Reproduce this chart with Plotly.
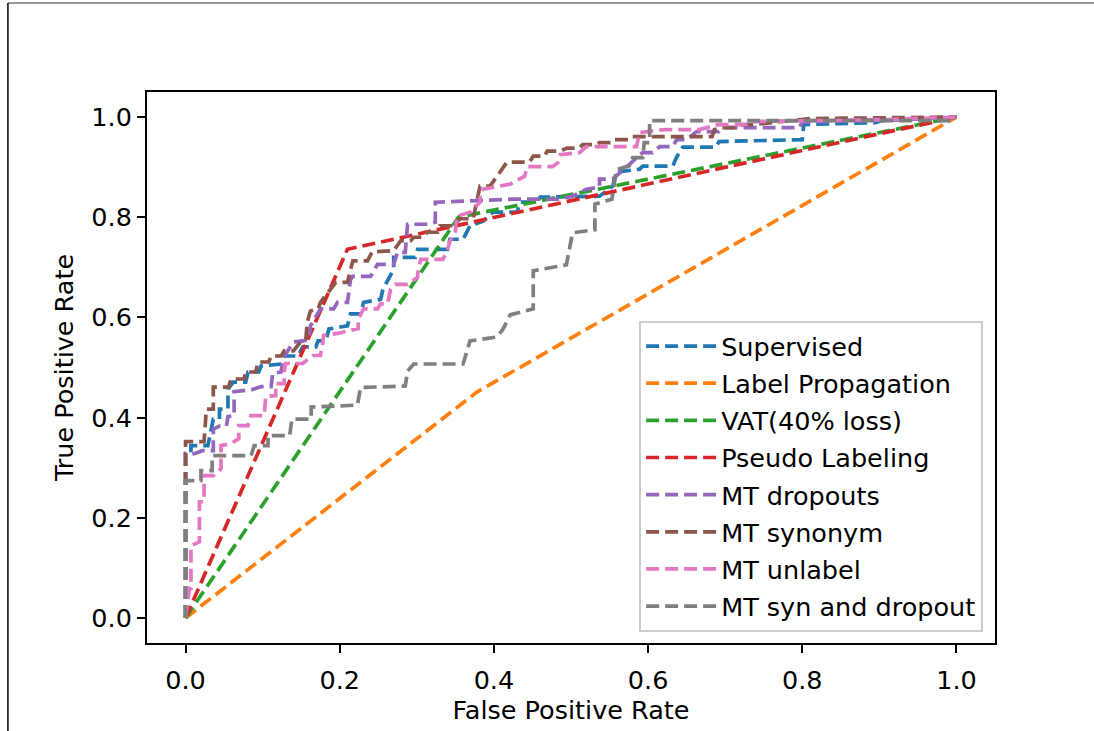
import plotly.graph_objects as go

names = ["Supervised", "Label Propagation", "VAT(40% loss)", "Pseudo Labeling",
         "MT dropouts", "MT synonym", "MT unlabel", "MT syn and dropout"]
colors = ["#1f77b4", "#ff7f0e", "#2ca02c", "#d62728", "#9467bd", "#8c564b", "#e377c2", "#7f7f7f"]

sup_fpr = [0, 0, 0.007, 0.007, 0.029, 0.036, 0.044, 0.044, 0.055, 0.055, 0.062, 0.078, 0.081, 0.095, 0.098,
           0.124, 0.128, 0.146, 0.152, 0.169, 0.172, 0.182, 0.186, 0.210, 0.214, 0.227, 0.231, 0.253, 0.256,
           0.270, 0.270, 0.298, 0.301, 0.340, 0.343, 0.360, 0.369, 0.386, 0.399, 0.430, 0.434, 0.456, 0.460,
           0.537, 0.554, 0.559, 0.589, 0.593, 0.632, 0.637, 0.645, 0.688, 0.692, 0.800, 0.802, 0.895, 0.903, 1]
sup_tpr = [0, 0.328, 0.328, 0.344, 0.344, 0.397, 0.397, 0.417, 0.417, 0.457, 0.471, 0.471, 0.491, 0.491, 0.503,
           0.507, 0.523, 0.523, 0.541, 0.541, 0.553, 0.553, 0.577, 0.583, 0.607, 0.607, 0.630, 0.636, 0.656,
           0.696, 0.720, 0.720, 0.736, 0.736, 0.756, 0.756, 0.783, 0.792, 0.810, 0.810, 0.830, 0.830, 0.840,
           0.842, 0.862, 0.890, 0.896, 0.902, 0.902, 0.920, 0.940, 0.940, 0.951, 0.955, 0.985, 0.989, 0.993, 1]

lp_fpr = [0, 0.378, 1]
lp_tpr = [0, 0.451, 1]

vat_fpr = [0, 0.354, 1]
vat_tpr = [0, 0.800, 1]

pl_fpr = [0, 0.210, 1]
pl_tpr = [0, 0.736, 1]

mtd_fpr = [0, 0, 0.0115, 0.0216, 0.036, 0.036, 0.044, 0.053, 0.055, 0.063, 0.063, 0.087, 0.098, 0.111, 0.113,
           0.124, 0.126, 0.140, 0.153, 0.160, 0.162, 0.175, 0.192, 0.197, 0.210, 0.214, 0.217, 0.240, 0.249,
           0.270, 0.275, 0.285, 0.288, 0.314, 0.324, 0.324, 0.425, 0.482, 0.502, 0.520, 0.537, 0.537, 0.554,
           0.580, 0.593, 0.606, 0.615, 0.632, 0.637, 0.650, 0.663, 0.692, 0.701, 0.796, 0.800, 0.912, 1]
mtd_tpr = [0, 0.328, 0.328, 0.334, 0.334, 0.377, 0.383, 0.383, 0.402, 0.404, 0.452, 0.456, 0.462, 0.462, 0.488,
           0.491, 0.517, 0.551, 0.553, 0.557, 0.583, 0.617, 0.617, 0.630, 0.630, 0.676, 0.682, 0.682, 0.706,
           0.706, 0.730, 0.730, 0.786, 0.786, 0.790, 0.830, 0.836, 0.836, 0.842, 0.856, 0.860, 0.876, 0.876,
           0.912, 0.929, 0.929, 0.941, 0.941, 0.955, 0.955, 0.971, 0.971, 0.979, 0.979, 0.990, 0.994, 1]

mts_fpr = [0, 0, 0.024, 0.027, 0.036, 0.036, 0.056, 0.059, 0.076, 0.078, 0.091, 0.094, 0.108, 0.111, 0.124,
           0.128, 0.140, 0.149, 0.156, 0.158, 0.162, 0.172, 0.175, 0.188, 0.195, 0.210, 0.217, 0.236, 0.242,
           0.270, 0.279, 0.292, 0.296, 0.308, 0.314, 0.327, 0.330, 0.347, 0.356, 0.373, 0.382, 0.395, 0.408,
           0.417, 0.446, 0.451, 0.466, 0.469, 0.486, 0.495, 0.511, 0.515, 0.533, 0.537, 0.554, 0.557, 0.576,
           0.580, 0.683, 0.686, 0.696, 0.718, 0.722, 0.735, 0.812, 1]
mts_tpr = [0, 0.352, 0.352, 0.417, 0.417, 0.461, 0.461, 0.477, 0.477, 0.491, 0.491, 0.511, 0.511, 0.523, 0.523,
           0.533, 0.533, 0.551, 0.557, 0.591, 0.613, 0.617, 0.630, 0.656, 0.670, 0.670, 0.713, 0.713, 0.731,
           0.733, 0.753, 0.753, 0.760, 0.760, 0.770, 0.770, 0.783, 0.783, 0.797, 0.797, 0.862, 0.862, 0.890,
           0.910, 0.910, 0.922, 0.922, 0.932, 0.932, 0.938, 0.938, 0.945, 0.945, 0.949, 0.949, 0.955, 0.955,
           0.961, 0.961, 0.975, 0.979, 0.979, 0.985, 0.985, 0.997, 1]

mtu_fpr = [0, 0.005, 0.007, 0.007, 0.018, 0.018, 0.024, 0.024, 0.036, 0.046, 0.046, 0.059, 0.069, 0.069, 0.081,
           0.085, 0.102, 0.104, 0.117, 0.117, 0.128, 0.128, 0.130, 0.152, 0.165, 0.175, 0.178, 0.179, 0.197,
           0.214, 0.224, 0.224, 0.231, 0.249, 0.253, 0.262, 0.266, 0.272, 0.288, 0.301, 0.301, 0.305, 0.334,
           0.340, 0.343, 0.350, 0.352, 0.369, 0.382, 0.382, 0.386, 0.421, 0.440, 0.443, 0.476, 0.483, 0.486,
           0.511, 0.520, 0.585, 0.589, 0.621, 0.666, 0.692, 0.727, 0.735, 0.912, 1]
mtu_tpr = [0, 0.059, 0.059, 0.144, 0.152, 0.232, 0.232, 0.284, 0.284, 0.298, 0.344, 0.348, 0.358, 0.384, 0.384,
           0.404, 0.404, 0.442, 0.444, 0.468, 0.468, 0.492, 0.508, 0.508, 0.524, 0.524, 0.548, 0.564, 0.568,
           0.574, 0.578, 0.597, 0.617, 0.617, 0.627, 0.627, 0.656, 0.666, 0.666, 0.680, 0.686, 0.716, 0.716,
           0.736, 0.752, 0.771, 0.802, 0.810, 0.830, 0.850, 0.856, 0.866, 0.882, 0.901, 0.901, 0.909, 0.925,
           0.929, 0.941, 0.941, 0.969, 0.975, 0.975, 0.985, 0.985, 0.991, 0.995, 1]

mtsd_fpr = [0, 0, 0.020, 0.020, 0.0345, 0.0345, 0.085, 0.089, 0.107, 0.107, 0.135, 0.138, 0.163, 0.163, 0.223,
            0.227, 0.285, 0.288, 0.296, 0.360, 0.369, 0.404, 0.412, 0.421, 0.451, 0.451, 0.494, 0.502, 0.531,
            0.531, 0.553, 0.559, 0.576, 0.580, 0.593, 0.595, 0.602, 0.602, 0.99, 1]
mtsd_tpr = [0, 0.274, 0.274, 0.294, 0.294, 0.324, 0.324, 0.344, 0.344, 0.364, 0.364, 0.397, 0.397, 0.421, 0.425,
            0.460, 0.463, 0.493, 0.507, 0.507, 0.553, 0.561, 0.577, 0.605, 0.617, 0.693, 0.705, 0.769, 0.775,
            0.826, 0.836, 0.895, 0.903, 0.919, 0.919, 0.949, 0.949, 0.993, 0.993, 1]

series = [(sup_fpr, sup_tpr), (lp_fpr, lp_tpr), (vat_fpr, vat_tpr), (pl_fpr, pl_tpr),
          (mtd_fpr, mtd_tpr), (mts_fpr, mts_tpr), (mtu_fpr, mtu_tpr), (mtsd_fpr, mtsd_tpr)]

tick_vals = [0.0, 0.2, 0.4, 0.6, 0.8, 1.0]
tick_text = ["0.0", "0.2", "0.4", "0.6", "0.8", "1.0"]

FONT = "DejaVu Sans, Liberation Sans, sans-serif"
FS = 25.5

fig = go.Figure()
for i, (nm, col, (fx, ty)) in enumerate(zip(names, colors, series)):
    fig.add_trace(go.Scatter(
        x=fx, y=ty, mode="lines", name=nm, legendgroup=f"g{i}",
        line=dict(color=col, width=3.7, dash="13px,6px"),
    ))

axis_common = dict(
    showgrid=False, zeroline=False, showline=True, linecolor="black", linewidth=2,
    mirror=True, ticks="outside", ticklen=8, tickwidth=2, tickcolor="black",
    tickfont=dict(family=FONT, size=FS, color="black"),
    tickvals=tick_vals, ticktext=tick_text, range=[-0.05, 1.05],
)

fig.update_layout(
    width=1094, height=731,
    margin=dict(l=147, r=99, t=92, b=88, autoexpand=False),
    paper_bgcolor="white", plot_bgcolor="white",
    font=dict(family=FONT, size=FS, color="black"),
    xaxis=dict(title=dict(text="False Positive Rate", font=dict(family=FONT, size=FS), standoff=2),
               ticklabelstandoff=5, **axis_common),
    yaxis=dict(title=dict(text="True Positive Rate", font=dict(family=FONT, size=FS), standoff=10),
               ticklabelstandoff=0, **axis_common),
    legend=dict(
        x=0.986, y=0.02, xanchor="right", yanchor="bottom",
        bgcolor="rgba(255,255,255,0.8)", bordercolor="#cccccc", borderwidth=2,
        font=dict(family=FONT, size=FS, color="black"),
        tracegroupgap=1, itemwidth=70,
    ),
    showlegend=True,
    shapes=[
        dict(type="line", xref="paper", yref="paper", x0=-0.164, x1=1.2, y0=1.1615, y1=1.1615,
             line=dict(color="#777777", width=1.5)),
        dict(type="line", xref="paper", yref="paper", x0=-0.164, x1=-0.164, y0=1.1615, y1=-0.2,
             line=dict(color="black", width=1.5)),
    ],
)

fig.write_html("out.html")
